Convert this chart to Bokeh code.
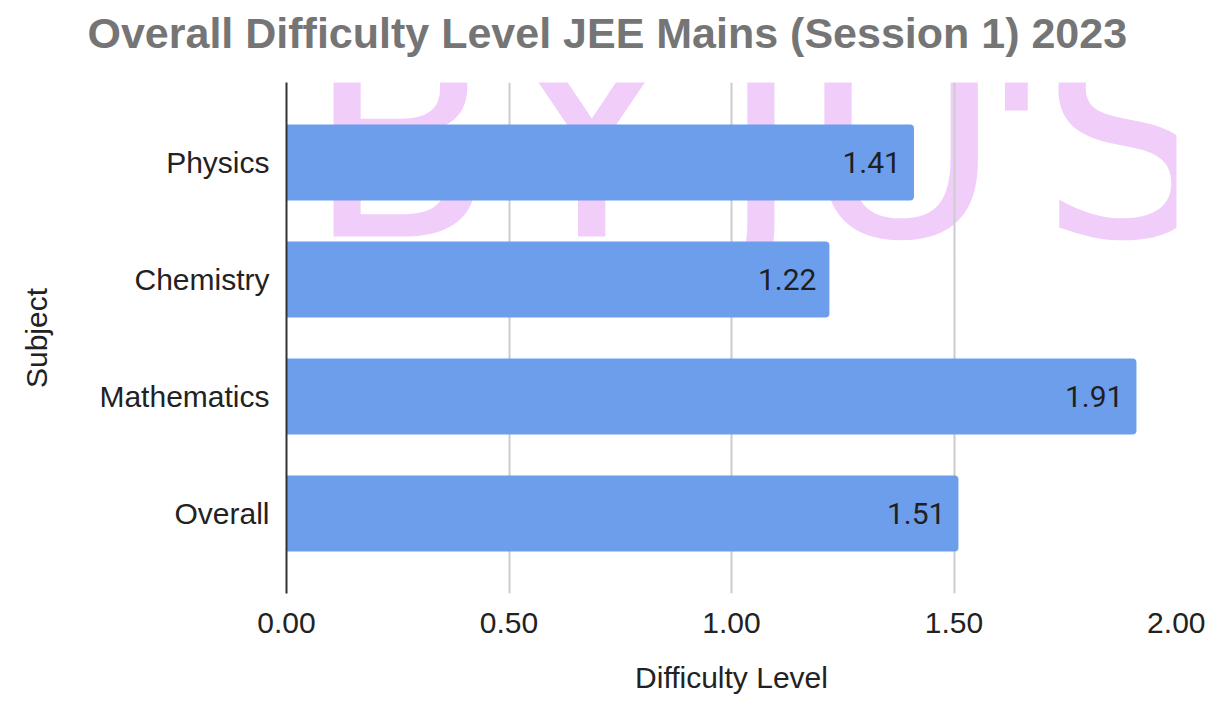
from bokeh.plotting import figure
from bokeh.models import (Range1d, FactorRange, FixedTicker, NumeralTickFormatter,
                          ColumnDataSource, Title, Label)
from bokeh.core.properties import value
from bokeh.embed import file_html
from bokeh.resources import INLINE

# ---- data ----
subjects = ["Physics", "Chemistry", "Mathematics", "Overall"]
difficulty = [1.41, 1.22, 1.91, 1.51]
x_ticks = [0.0, 0.5, 1.0, 1.5, 2.0]
title_text = "Overall Difficulty Level JEE Mains (Session 1) 2023"
x_label = "Difficulty Level"
y_label = "Subject"

# watermark letters (background decoration) and where each one starts
wm_letters = ["B", "Y", "J", "U", "'", "S"]
wm_letter_x = [0.045, 0.497, 0.975, 1.155, 1.555, 1.694]
wm_y = 3.68
pink = "#f1cdf9"

src = ColumnDataSource(dict(
    subject=subjects,
    value=difficulty,
    label=[f"{v:.2f}" for v in difficulty],
))

p = figure(
    width=1205, height=699,
    x_range=Range1d(0, 2),
    y_range=FactorRange(factors=subjects[::-1], range_padding=0.092),
    output_backend="svg", toolbar_location=None,
    min_border_left=286, min_border_right=29,
    min_border_top=82, min_border_bottom=106,
)
p.outline_line_color = None
p.background_fill_color = "white"
p.border_fill_color = "white"

# ---- watermark, beneath grid and bars ----
for letter, lx in zip(wm_letters, wm_letter_x):
    p.add_layout(Label(x=lx, y=wm_y, text=letter, text_font="DejaVu Sans",
                       text_font_size="275px", text_color=pink, text_align="left",
                       text_baseline="middle", level="image"))

# ---- bars + value labels ----
p.hbar(y="subject", left=0, right="value", height=0.65, source=src,
       fill_color="#6d9eeb", line_color=None, border_radius=(0, 4, 4, 0))
p.text(x="value", y="subject", text="label", source=src,
       text_align="right", text_baseline="middle", x_offset=-13,
       text_font=value("Roboto"), text_font_size="30px", text_color="#1f1f1f")

# ---- axes ----
label_font = "Liberation Sans"
p.xaxis.ticker = FixedTicker(ticks=x_ticks)
p.xaxis.formatter = NumeralTickFormatter(format="0.00")
p.xaxis.axis_line_color = None
p.xaxis.major_tick_line_color = None
p.xaxis.minor_tick_line_color = None
p.xaxis.major_label_standoff = 13
p.xaxis.major_label_text_font = label_font
p.xaxis.major_label_text_font_size = "30px"
p.xaxis.major_label_text_color = "#222222"
p.xaxis.axis_label = x_label
p.xaxis.axis_label_text_font = label_font
p.xaxis.axis_label_text_font_size = "30px"
p.xaxis.axis_label_text_font_style = "normal"
p.xaxis.axis_label_text_color = "#222222"
p.xaxis.axis_label_standoff = 25

p.yaxis.axis_line_color = "#333333"
p.yaxis.axis_line_width = 2
p.yaxis.major_tick_line_color = None
p.yaxis.minor_tick_line_color = None
p.yaxis.major_label_standoff = 11
p.yaxis.major_label_text_font = label_font
p.yaxis.major_label_text_font_size = "30px"
p.yaxis.major_label_text_color = "#222222"
p.yaxis.axis_label = y_label
p.yaxis.axis_label_text_font = label_font
p.yaxis.axis_label_text_font_size = "30px"
p.yaxis.axis_label_text_font_style = "normal"
p.yaxis.axis_label_text_color = "#222222"
p.yaxis.axis_label_standoff = 43

p.xgrid.ticker = FixedTicker(ticks=x_ticks)
p.xgrid.grid_line_color = "#cccccc"
p.xgrid.grid_line_width = 2
p.ygrid.grid_line_color = None

# ---- title (outer) + thin spacer panel between title and plot area (inner) ----
p.title.text = title_text
p.title.text_font = label_font
p.title.text_font_size = "43px"
p.title.text_font_style = "bold"
p.title.text_color = "#757575"
p.title.align = "left"
p.title.offset = -199
p.title.standoff = 8
p.add_layout(Title(text=" ", text_font_size="1px", standoff=19), "above")

open("out.html", "w").write(file_html(p, INLINE))
